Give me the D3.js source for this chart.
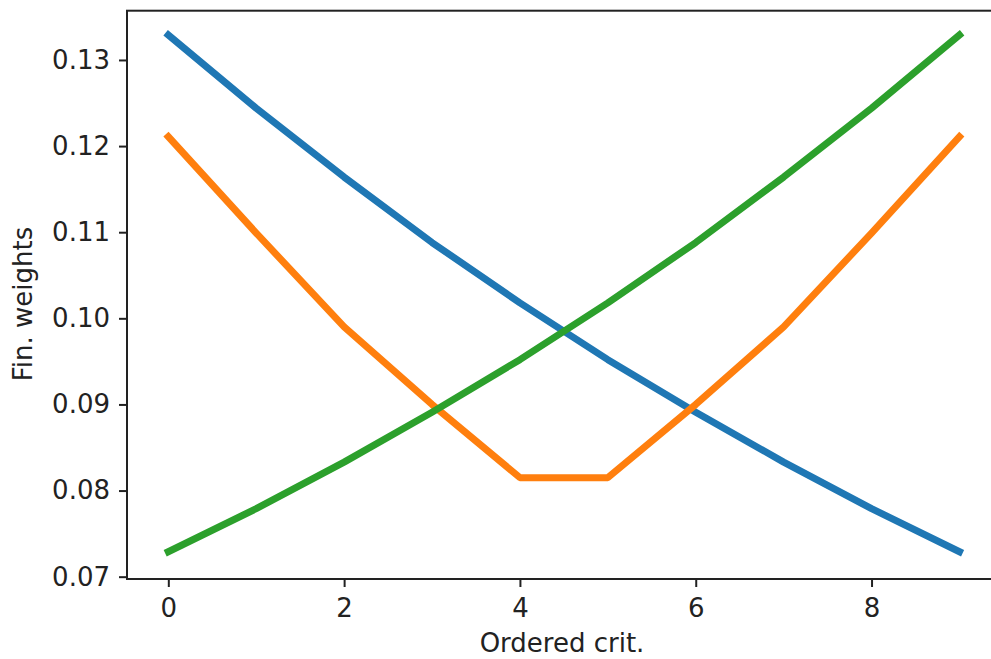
<!DOCTYPE html>
<html>
<head>
<meta charset="utf-8">
<script src="https://cdn.jsdelivr.net/npm/d3@7"></script>
<style>
  html, body { margin: 0; padding: 0; background: #fff; }
  svg { display: block; }
  .tick text { font-family: "DejaVu Sans", sans-serif; fill: #222; }
</style>
</head>
<body>
<svg id="chart" width="991" height="659"></svg>
<script>
// Criterion index (ordered)
const crit = [0, 1, 2, 3, 4, 5, 6, 7, 8, 9];

// Final weights per ordering scheme
const weightsDecreasing = [0.1329, 0.1244, 0.1164, 0.1088, 0.1018, 0.0952, 0.0891, 0.0833, 0.0779, 0.0729];
const weightsValley     = [0.1211, 0.1099, 0.0990, 0.0900, 0.0815, 0.0815, 0.0900, 0.0990, 0.1099, 0.1211];
const weightsIncreasing = [0.0729, 0.0779, 0.0833, 0.0891, 0.0952, 0.1018, 0.1088, 0.1164, 0.1244, 0.1329];

const xTicks = [0, 2, 4, 6, 8];
const yTicks = [0.07, 0.08, 0.09, 0.10, 0.11, 0.12, 0.13];

const seriesColors = ["#1f77b4", "#ff7f0e", "#2ca02c"];
const series = [weightsDecreasing, weightsValley, weightsIncreasing];

const svg = d3.select("#chart");
const plotLeft = 127, plotRight = 999, plotTop = 10.7, plotBottom = 579;
const fontSize = 26;

const x = d3.scaleLinear().domain([-0.47, 9.45]).range([plotLeft, plotRight]);
const y = d3.scaleLinear().domain([0.06973, 0.13572]).range([plotBottom, plotTop]);

// Data lines
const line = d3.line()
  .x((d, i) => x(crit[i]))
  .y(d => y(d));

svg.append("g")
  .selectAll("path")
  .data(series)
  .join("path")
  .attr("d", d => line(d))
  .attr("fill", "none")
  .attr("stroke", (d, i) => seriesColors[i])
  .attr("stroke-width", 7)
  .attr("stroke-linecap", "square")
  .attr("stroke-linejoin", "round");

// Axes
const xAxis = d3.axisBottom(x)
  .tickValues(xTicks)
  .tickFormat(d3.format("d"))
  .tickSize(8)
  .tickPadding(12);

const yAxis = d3.axisLeft(y)
  .tickValues(yTicks)
  .tickFormat(d3.format(".2f"))
  .tickSize(8)
  .tickPadding(9);

const gx = svg.append("g")
  .attr("transform", `translate(0,${plotBottom})`)
  .call(xAxis);
const gy = svg.append("g")
  .attr("transform", `translate(${plotLeft},0)`)
  .call(yAxis);

[gx, gy].forEach(g => {
  g.select(".domain").remove();
  g.selectAll(".tick line").attr("stroke", "#222").attr("stroke-width", 2);
  g.selectAll(".tick text").style("font-size", fontSize + "px");
});

// Frame (spines)
svg.append("rect")
  .attr("x", plotLeft)
  .attr("y", plotTop)
  .attr("width", plotRight - plotLeft)
  .attr("height", plotBottom - plotTop)
  .attr("fill", "none")
  .attr("stroke", "#222")
  .attr("stroke-width", 2);

// Axis titles
svg.append("text")
  .attr("x", 562)
  .attr("y", 652)
  .attr("text-anchor", "middle")
  .style("font-family", "DejaVu Sans, sans-serif")
  .style("font-size", fontSize + "px")
  .style("fill", "#222")
  .text("Ordered crit.");

svg.append("text")
  .attr("transform", "translate(32,304) rotate(-90)")
  .attr("text-anchor", "middle")
  .style("font-family", "DejaVu Sans, sans-serif")
  .style("font-size", fontSize + "px")
  .style("fill", "#222")
  .text("Fin. weights");
</script>
</body>
</html>
